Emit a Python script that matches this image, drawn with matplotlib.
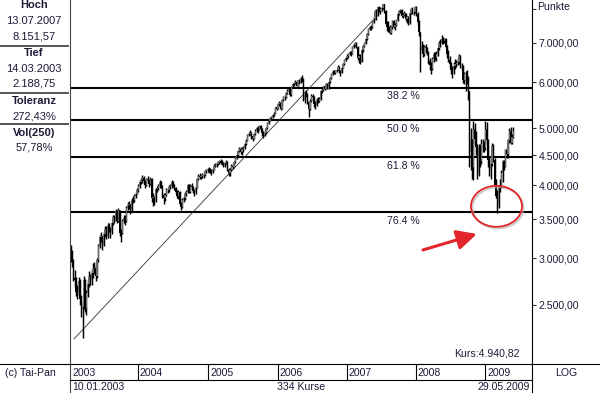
import matplotlib
matplotlib.use('Agg')
import matplotlib.pyplot as plt
import numpy as np
import pandas as pd
from matplotlib.patches import Ellipse
from matplotlib.lines import Line2D

plt.rcParams['font.family'] = ['Liberation Sans', 'DejaVu Sans']

# ---------------- data (weekly bars, 10.01.2003 - 29.05.2009) ----------------
first_open = 3130
close = [
    # 2003
    3050, 2950, 2780, 2750, 2630, 2620, 2740, 2550, 2460, 2480, 2750, 2470, 2620, 2710, 2790, 2750, 2830,
    2870, 2890, 2800, 2980, 3150, 3260, 3270, 3160, 3300, 3360, 3270, 3410, 3360, 3320, 3440, 3530, 3480,
    3610, 3480, 3620, 3310, 3310, 3470, 3520, 3470, 3660, 3700, 3710, 3620, 3770, 3780, 3830, 3870, 3930,
    # 2004
    3990, 4050, 4080, 4110, 4060, 4000, 4100, 4080, 4020, 4100, 3800, 3820, 3760, 3940, 3950, 3990, 4050,
    3990, 3850, 3800, 3850, 3920, 3920, 3970, 3980, 4050, 4000, 3950, 3900, 3830, 3900, 3720, 3670, 3770,
    3800, 3870, 3890, 4000, 3900, 3990, 3970, 3910, 3900, 3960, 4100, 4150, 4130, 4140, 4160, 4170, 4230,
    4240, 4256,
    # 2005
    4250, 4230, 4230, 4250, 4320, 4330, 4350, 4380, 4400, 4370, 4370, 4320, 4360, 4380, 4250, 4200, 4250,
    4320, 4300, 4380, 4470, 4500, 4580, 4610, 4550, 4620, 4630, 4700, 4760, 4880, 4900, 4920, 4850, 4800,
    4900, 4950, 5000, 4970, 5040, 4980, 4910, 4880, 4920, 5000, 5100, 5150, 5200, 5230, 5270, 5300, 5430,
    5408,
    # 2006
    5500, 5530, 5400, 5600, 5650, 5650, 5750, 5800, 5850, 5700, 5900, 5950, 5970, 6000, 5920, 6040, 5990,
    6100, 6080, 5600, 5750, 5720, 5550, 5400, 5580, 5680, 5650, 5500, 5480, 5600, 5580, 5620, 5800, 5820,
    5900, 5850, 5950, 5850, 6000, 6100, 6200, 6250, 6230, 6270, 6300, 6380, 6250, 6230, 6350, 6450, 6550,
    6597,
    # 2007
    6650, 6700, 6750, 6700, 6900, 6950, 7000, 6900, 6600, 6650, 6500, 6800, 6920, 7000, 7100, 7250, 7400,
    7450, 7450, 7600, 7700, 7950, 7800, 8050, 7950, 8000, 8030, 8150, 7950, 7550, 7450, 7450, 7270, 7450,
    7640, 7450, 7500, 7650, 7860, 7930, 7970, 7780, 7820, 7870, 7700, 7760, 7560, 7870, 8000, 7900, 7900,
    8067,
    # 2008
    7850, 7600, 7300, 6800, 6950, 6700, 6900, 6850, 6750, 6510, 6420, 6330, 6560, 6700, 6600, 6700, 6850,
    7000, 7000, 7100, 7050, 7100, 6900, 6700, 6550, 6450, 6300, 6300, 6400, 6450, 6480, 6500, 6650, 6400,
    6400, 6050, 6200, 6200, 6100, 5800, 4550, 4780, 4300, 4990, 4800, 4650, 4200, 4650, 4400, 4700, 4700,
    4630,
    # 2009
    4980, 4780, 4420, 4240, 4340, 4670, 4420, 4000, 3840, 3700, 3950, 3950, 4200, 4380, 4300, 4600, 4520,
    4770, 4950, 4730, 4840, 4940.82,
]
high = [
    # 2003
    3160, 3100, 2990, 2860, 2790, 2700, 2790, 2760, 2600, 2530, 2800, 2760, 2650, 2750, 2850, 2820, 2880,
    2940, 2950, 2920, 3000, 3170, 3290, 3320, 3280, 3330, 3400, 3400, 3440, 3450, 3390, 3460, 3560, 3560,
    3640, 3620, 3660, 3630, 3360, 3500, 3560, 3550, 3680, 3740, 3760, 3720, 3800, 3830, 3860, 3900, 3960,
    # 2004
    4010, 4080, 4120, 4160, 4150, 4080, 4120, 4150, 4100, 4130, 4110, 3880, 3840, 3960, 3990, 4020, 4080,
    4070, 4000, 3880, 3880, 3950, 3960, 4000, 4020, 4080, 4070, 4020, 3970, 3920, 3920, 3910, 3750, 3800,
    3830, 3890, 3920, 4020, 4010, 4010, 4030, 3990, 3940, 3980, 4120, 4180, 4190, 4170, 4190, 4200, 4250,
    4270, 4280,
    # 2005
    4300, 4280, 4260, 4280, 4340, 4370, 4380, 4400, 4420, 4430, 4410, 4390, 4390, 4410, 4400, 4280, 4280,
    4340, 4360, 4400, 4490, 4530, 4600, 4640, 4640, 4640, 4670, 4720, 4790, 4900, 4940, 4960, 4940, 4880,
    4920, 4980, 5030, 5040, 5060, 5070, 5000, 4950, 4960, 5030, 5120, 5180, 5230, 5260, 5300, 5340, 5450,
    5460,
    # 2006
    5530, 5560, 5560, 5620, 5680, 5700, 5770, 5830, 5880, 5880, 5920, 5980, 6000, 6040, 6030, 6060, 6070,
    6130, 6160, 6100, 5800, 5820, 5750, 5560, 5620, 5720, 5720, 5680, 5560, 5630, 5650, 5660, 5820, 5860,
    5920, 5930, 5970, 5980, 6020, 6130, 6220, 6290, 6290, 6300, 6330, 6410, 6400, 6300, 6370, 6470, 6570,
    6620,
    # 2007
    6700, 6740, 6790, 6780, 6920, 6990, 7040, 7020, 6930, 6700, 6700, 6830, 6950, 7040, 7130, 7280, 7430,
    7490, 7520, 7640, 7740, 7970, 8000, 8080, 8090, 8050, 8080, 8152, 8140, 7980, 7620, 7640, 7500, 7480,
    7660, 7670, 7560, 7680, 7880, 7970, 8010, 8000, 7870, 7950, 7880, 7800, 7800, 7890, 8030, 8050, 7960,
    8100,
    # 2008
    8100, 7900, 7650, 7300, 7050, 6980, 6950, 6980, 6900, 6780, 6600, 6500, 6620, 6760, 6760, 6780, 6880,
    7050, 7100, 7220, 7180, 7150, 7150, 6950, 6800, 6650, 6500, 6400, 6500, 6560, 6550, 6600, 6700, 6680,
    6480, 6420, 6250, 6270, 6300, 6150, 5800, 5000, 4800, 5150, 5100, 4950, 4700, 4700, 4700, 4800, 4800,
    4750,
    # 2009
    5150, 5120, 4800, 4480, 4450, 4720, 4700, 4450, 4100, 3920, 4000, 4100, 4250, 4420, 4420, 4620, 4650,
    4800, 5000, 5020, 4900, 5030,
]
low = [
    # 2003
    2960, 2900, 2740, 2680, 2590, 2550, 2590, 2500, 2380, 2190, 2460, 2430, 2400, 2570, 2680, 2700, 2700,
    2780, 2820, 2740, 2780, 2960, 3120, 3200, 3100, 3150, 3260, 3230, 3250, 3320, 3250, 3300, 3420, 3440,
    3470, 3440, 3460, 3280, 3200, 3300, 3440, 3420, 3460, 3630, 3640, 3570, 3610, 3730, 3750, 3800, 3860,
    # 2004
    3900, 3960, 4010, 4040, 4010, 3950, 3980, 4040, 3970, 4000, 3750, 3690, 3700, 3740, 3890, 3920, 3960,
    3950, 3800, 3720, 3760, 3830, 3880, 3900, 3940, 3960, 3970, 3920, 3870, 3800, 3790, 3700, 3620, 3660,
    3740, 3780, 3840, 3880, 3880, 3880, 3940, 3880, 3840, 3870, 3950, 4080, 4100, 4090, 4110, 4120, 4150,
    4200, 4220,
    # 2005
    4200, 4190, 4170, 4200, 4240, 4290, 4300, 4330, 4350, 4340, 4330, 4290, 4300, 4340, 4230, 4140, 4150,
    4230, 4270, 4290, 4370, 4440, 4480, 4560, 4520, 4500, 4560, 4620, 4690, 4750, 4850, 4870, 4800, 4760,
    4790, 4880, 4940, 4920, 4960, 4950, 4860, 4810, 4850, 4900, 4990, 5080, 5140, 5180, 5210, 5250, 5290,
    5380,
    # 2006
    5400, 5460, 5380, 5390, 5580, 5600, 5640, 5730, 5780, 5680, 5690, 5880, 5900, 5950, 5900, 5900, 5960,
    5980, 6000, 5580, 5520, 5660, 5500, 5240, 5380, 5550, 5600, 5450, 5400, 5460, 5530, 5540, 5600, 5760,
    5800, 5810, 5840, 5830, 5840, 5990, 6080, 6180, 6190, 6200, 6240, 6290, 6220, 6150, 6220, 6340, 6430,
    6520,
    # 2007
    6560, 6610, 6680, 6640, 6690, 6860, 6920, 6860, 6550, 6480, 6440, 6490, 6760, 6880, 6980, 7070, 7230,
    7360, 7380, 7420, 7580, 7680, 7650, 7780, 7900, 7850, 7950, 8000, 7880, 7500, 7330, 7300, 7250, 7260,
    7400, 7420, 7380, 7480, 7620, 7820, 7880, 7740, 7720, 7790, 7620, 7560, 7500, 7540, 7840, 7860, 7820,
    7880,
    # 2008
    7800, 7500, 7200, 6250, 6720, 6620, 6650, 6720, 6680, 6450, 6300, 6200, 6300, 6500, 6540, 6520, 6650,
    6820, 6900, 6960, 6980, 7000, 6850, 6600, 6500, 6350, 6200, 6100, 6200, 6330, 6380, 6420, 6450, 6350,
    6300, 5980, 5950, 5800, 5950, 5600, 4300, 4250, 4100, 4080, 4700, 4500, 4100, 4150, 4300, 4350, 4550,
    4550,
    # 2009
    4600, 4700, 4300, 4150, 4100, 4320, 4380, 3980, 3800, 3590, 3660, 3900, 3950, 4050, 4250, 4300, 4450,
    4450, 4720, 4700, 4700, 4820,
]
first_date = '2003-01-10'

hoch_date, hoch_value = '13.07.2007', 8151.57
tief_date, tief_value = '14.03.2003', 2188.75
vol_text = '57,78%'
fib_ratios = [0.382, 0.5, 0.618, 0.764]
fib_labels = ['38.2 %', '50.0 %', '61.8 %', '76.4 %']
ytick_values = [2500, 3000, 3500, 4000, 4500, 5000, 6000, 7000, 8000]
ytick_labeled = [2500, 3000, 3500, 4000, 4500, 5000, 6000, 7000]
trend_x = [2.6, 229]          # week index
trend_y = [2183, 7724]        # points
circle_center = (320.3, 3680)
arrow_tail = (265, 3099)
arrow_tip = (305.5, 3300)

# ---------------- helpers ----------------
W, H = 600, 393
TXT = '#1b1b38'
FS = 7.6
FS_PANEL = 8.0


def fx(px):
    return px / W


def fy(py):
    return 1 - py / H


def de(v, dec=2):
    s = f"{v:,.{dec}f}"
    return s.replace(',', 'X').replace('.', ',').replace('X', '.')


fig = plt.figure(figsize=(6, 3.93), dpi=100)
fig.patch.set_facecolor('white')
ax = fig.add_axes([fx(70), fy(364), fx(532) - fx(70), fy(0) - fy(364)])

close_a = np.array(close, dtype=float)
high_a = np.array(high, dtype=float)
low_a = np.array(low, dtype=float)
n = len(close_a)
x = np.arange(n)
open_a = np.concatenate([[first_open], close_a[:-1]])

hi = np.maximum(high_a, np.maximum(open_a, close_a))
lo = np.minimum(low_a, np.minimum(open_a, close_a))
ax.vlines(x, lo, hi, color='black', lw=1.05, zorder=3)
up = close_a >= open_a
body_lo = np.minimum(open_a, close_a)
body_h = np.abs(close_a - open_a)
ax.bar(x[up], body_h[up], bottom=body_lo[up], width=1.0, color='#6a6a6a', lw=0, zorder=4)
ax.bar(x[~up], body_h[~up], bottom=body_lo[~up], width=1.0, color='black', lw=0, zorder=4)

ax.set_yscale('log')
ax.set_ylim(1978, 8291)
ax.set_xlim(-0.4, 347)

# Fibonacci retracement levels
rng = hoch_value - tief_value
xfrac_end = (531 - 70) / (532 - 70)
label_xfrac = (403 - 70) / (532 - 70)
for r, lab in zip(fib_ratios, fib_labels):
    lvl = hoch_value - r * rng
    ax.axhline(lvl, xmin=0, xmax=xfrac_end, color='black', lw=1.5, zorder=2)
    ax.annotate(lab, xy=(label_xfrac, lvl), xycoords=('axes fraction', 'data'),
                xytext=(0, -6.3), textcoords='offset points', ha='center', va='center',
                fontsize=FS, color=TXT)

# trend line
ax.plot(trend_x, trend_y, color='#333333', lw=0.6, zorder=2)

# red ellipse + arrow
disp = ax.transData.transform(circle_center)
cfig = fig.transFigure.inverted().transform(disp)
shadow = Ellipse((cfig[0] + 1.5 / W, cfig[1] - 1.5 / H), 51 / W, 41 / H, transform=fig.transFigure,
                 fill=False, ec='#b0b0b0', lw=1.6, alpha=0.6, zorder=5)
fig.add_artist(shadow)
ell = Ellipse((cfig[0], cfig[1]), 51 / W, 41 / H, transform=fig.transFigure,
              fill=False, ec='#e3262b', lw=1.3, zorder=6)
fig.add_artist(ell)
ax.annotate('', xy=arrow_tip, xytext=arrow_tail, xycoords='data',
            arrowprops=dict(arrowstyle='-|>,head_length=1.0,head_width=0.5', color='#e3262b',
                            lw=2.2, mutation_scale=12, shrinkA=0, shrinkB=0), zorder=6)

# axes styling
for s in ax.spines.values():
    s.set_visible(False)
ax.set_xticks([])
ax.yaxis.tick_right()
ax.set_yticks(ytick_values)
ax.set_yticklabels([de(v) if v in ytick_labeled else '' for v in ytick_values])
ax.minorticks_off()
ax.tick_params(axis='y', which='major', direction='out', length=3, width=0.8, pad=2,
               labelsize=FS, labelcolor=TXT, color='#333333')
ax.set_facecolor('white')

# frame lines
def fline(x0, y0, x1, y1, color='black', lw=0.8):
    fig.add_artist(Line2D([fx(x0), fx(x1)], [fy(y0), fy(y1)], color=color, lw=lw,
                          transform=fig.transFigure, zorder=10))

fline(70, 0, 70, 393, color='#444444')
fline(532, 0, 532, 393)
fline(0, 364, 600, 364)
fline(70, 380, 532, 380)
for yy in (46, 93, 124):
    fline(0, yy, 68, yy, color='#555555', lw=1.4)

# year row
dates = pd.date_range(first_date, periods=n, freq='W-FRI')
yrs = dates.year.values
year_starts = [0] + [i for i in range(1, n) if yrs[i] != yrs[i - 1]]
for i in year_starts:
    xd = ax.transData.transform((i - 0.3, 3000))[0]
    xf = fig.transFigure.inverted().transform((xd, 0))[0]
    xp = xf * W
    if i > 0:
        fline(xp, 364, xp, 380)
    fig.text(fx(xp + 2), fy(372.5), str(yrs[i]), ha='left', va='center', fontsize=FS, color=TXT)

fig.text(fx(30), fy(372.5), '(c) Tai-Pan', ha='center', va='center', fontsize=FS, color=TXT)
fig.text(fx(566), fy(372.5), 'LOG', ha='center', va='center', fontsize=FS, color=TXT)
fig.text(fx(72), fy(387), dates[0].strftime('%d.%m.%Y'), ha='left', va='center', fontsize=FS, color=TXT)
fig.text(fx(301), fy(387), f'{n} Kurse', ha='center', va='center', fontsize=FS, color=TXT)
fig.text(fx(530), fy(387), dates[-1].strftime('%d.%m.%Y'), ha='right', va='center', fontsize=FS, color=TXT)
fig.text(fx(520), fy(353), 'Kurs:' + de(close_a[-1]), ha='right', va='center', fontsize=FS, color=TXT)
fig.text(fx(537), fy(7), 'Punkte', ha='left', va='center', fontsize=FS, color=TXT)

# left info panel
tol = (hoch_value / tief_value - 1) * 100
panel = [
    ('Hoch', 5.5, True), (hoch_date, 20.5, False), (de(hoch_value), 36.5, False),
    ('Tief', 53.5, True), (tief_date, 68.5, False), (de(tief_value), 84, False),
    ('Toleranz', 101, True), (de(tol) + '%', 116.5, False),
    ('Vol(250)', 132.5, True), (vol_text, 147.5, False),
]
for txt, yy, bold in panel:
    fig.text(fx(34), fy(yy), txt, ha='center', va='center', fontsize=FS_PANEL, color=TXT,
             fontweight='bold' if bold else 'normal')

fig.savefig('out.png', dpi=100, facecolor='white')
